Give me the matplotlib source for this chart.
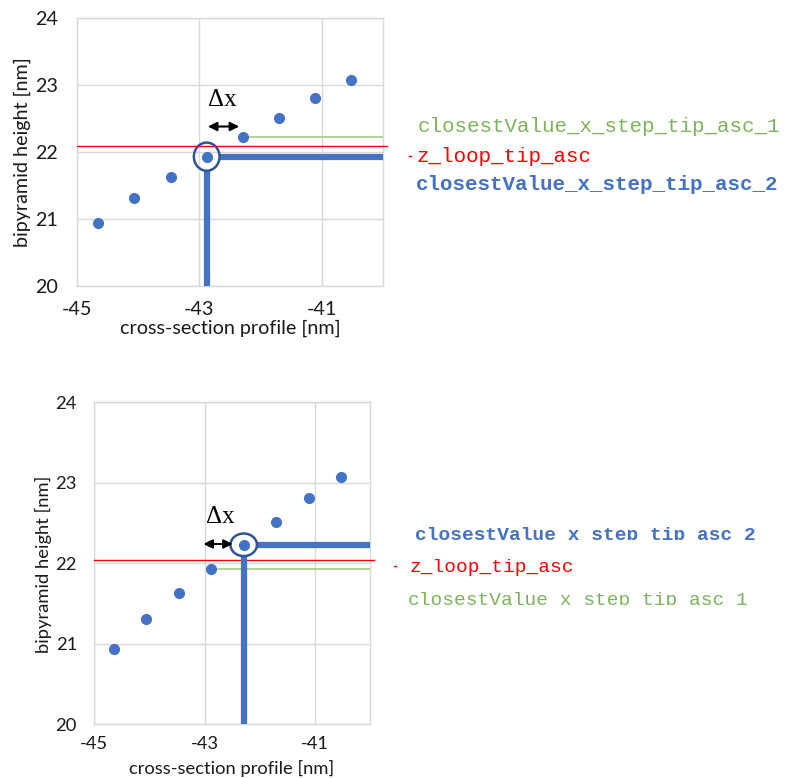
import matplotlib.pyplot as plt
from matplotlib.patches import Ellipse, Rectangle
from matplotlib.lines import Line2D

# cross-section profile points (same data in both panels)
x_profile = [-44.65, -44.06, -43.47, -42.88, -42.29, -41.70, -41.11, -40.53]
z_height = [20.94, 21.31, 21.63, 21.93, 22.23, 22.51, 22.81, 23.07]

# per panel: index of closestValue_x_step_tip_asc_2 (circled) and _1, z_loop_tip_asc
step2_idx = [3, 4]
step1_idx = [4, 3]
z_loop = [22.09, 22.04]

x_ticks = [-45, -43, -41]
y_ticks = [20, 21, 22, 23, 24]
lbl_step1 = "closestValue_x_step_tip_asc_1"
lbl_zloop = "z_loop_tip_asc"
lbl_step2 = "closestValue_x_step_tip_asc_2"

BLUE = "#4472C4"
DARKBLUE = "#2F5597"
GREEN_LINE = "#A9D18E"
GREEN_TXT = "#7DB55A"
GRID = "#D9D9D9"
TXT = "#1A1A1A"
W, H = 787, 778

fig = plt.figure(figsize=(W / 100, H / 100), dpi=100)
ax_top = fig.add_axes([0.0978, 0.6324, 0.3888, 0.3445])
ax_bot = fig.add_axes([0.1198, 0.069, 0.3503, 0.4139])


def draw_panel(ax, k, circ, arrow_x, arrow_y, dx_pos, fs, ypad, xpad, xlab_pos, ylab_pos):
    i2, i1 = step2_idx[k], step1_idx[k]
    ax.plot(x_profile, z_height, "o", color=BLUE, ms=7, zorder=6)
    xs, ys = x_profile[i2], z_height[i2]
    ax.add_patch(Ellipse((xs, ys), circ[0], circ[1], fill=False, ec=DARKBLUE, lw=1.8, zorder=7))
    ax.plot([xs + circ[0] / 2, -40], [ys, ys], color=BLUE, lw=4.5,
            solid_capstyle="butt", zorder=5, clip_on=False)
    ax.plot([xs, xs], [20, ys - circ[1] / 2], color=BLUE, lw=4.5,
            solid_capstyle="butt", zorder=5)
    ax.plot([x_profile[i1], -40], [z_height[i1]] * 2, color=GREEN_LINE, lw=1.3, zorder=3)
    ax.plot([-45, -39.93], [z_loop[k]] * 2, color="red", lw=1, zorder=4, clip_on=False)

    ax.annotate("", xy=(arrow_x[0], arrow_y), xytext=(arrow_x[1], arrow_y),
                arrowprops=dict(arrowstyle="<|-|>", color="black", lw=1.5,
                                mutation_scale=13, shrinkA=0, shrinkB=0), zorder=8)
    ax.text(dx_pos[0], dx_pos[1], "Δx", family="Liberation Serif", fontsize=18,
            ha="center", va="center")

    ax.set_xlim(-45, -40)
    ax.set_ylim(20, 24)
    ax.set_xticks(x_ticks)
    ax.set_yticks(y_ticks)
    ax.set_xticklabels([str(t) for t in x_ticks], family="Lato", fontsize=fs)
    ax.set_yticklabels([str(t) for t in y_ticks], family="Lato", fontsize=fs)
    ax.tick_params(axis="both", length=0, colors=TXT)
    ax.tick_params(axis="y", pad=ypad)
    ax.tick_params(axis="x", pad=xpad)
    ax.grid(True, color=GRID, lw=1)
    ax.set_axisbelow(True)
    for s in ax.spines.values():
        s.set_color(GRID)
        s.set_linewidth(1)

    ax.set_xlabel("cross-section profile [nm]", family="Lato", fontsize=fs, color=TXT)
    ax.set_ylabel("bipyramid height [nm]", family="Lato", fontsize=fs, color=TXT)
    ax.xaxis.label.set_va("center")
    ax.yaxis.label.set_va("center")
    ax.xaxis.set_label_coords(*xlab_pos)
    ax.yaxis.set_label_coords(*ylab_pos)


draw_panel(ax_top, 0, circ=(0.42, 0.42), arrow_x=(-42.86, -42.35), arrow_y=22.38,
           dx_pos=(-42.63, 22.78), fs=14.2, ypad=13.5, xpad=10.5,
           xlab_pos=(0.5, -0.157), ylab_pos=(-0.18, 0.5))
draw_panel(ax_bot, 1, circ=(0.48, 0.28), arrow_x=(-43.02, -42.49), arrow_y=22.24,
           dx_pos=(-42.72, 22.57), fs=13.2, ypad=12.5, xpad=8.5,
           xlab_pos=(0.498, -0.136), ylab_pos=(-0.185, 0.498))

mono = "Liberation Mono"
# labels next to the top panel
fig.text(418 / W, 1 - 131.5 / H, lbl_step1, color=GREEN_TXT, family=mono, fontsize=15,
         va="baseline")
fig.text(416 / W, 1 - 161.5 / H, lbl_zloop, color="red", family=mono, fontsize=15,
         va="baseline")
fig.text(416 / W, 1 - 190 / H, lbl_step2, color=BLUE, family=mono, fontsize=15,
         fontweight="bold", va="baseline")
fig.add_artist(Line2D([409 / W, 411 / W], [1 - 156 / H] * 2, color="red", lw=1))

# labels next to the bottom panel (partly cut off at the bottom)
t2 = fig.text(415 / W, 1 - 540 / H, lbl_step2, color=BLUE, family=mono, fontsize=14,
              fontweight="bold", va="baseline")
t2.set_clip_path(Rectangle((0, 1 - 539.5 / H), 1, 539.5 / H, transform=fig.transFigure))
fig.text(410 / W, 1 - 571.5 / H, lbl_zloop, color="red", family=mono, fontsize=14,
         va="baseline")
t1 = fig.text(408 / W, 1 - 605 / H, lbl_step1, color=GREEN_TXT, family=mono, fontsize=14,
              va="baseline")
t1.set_clip_path(Rectangle((0, 1 - 604.5 / H), 1, 604.5 / H, transform=fig.transFigure))
fig.add_artist(Line2D([394 / W, 396 / W], [1 - 566 / H] * 2, color="red", lw=1))

fig.savefig("out.png", dpi=100)
